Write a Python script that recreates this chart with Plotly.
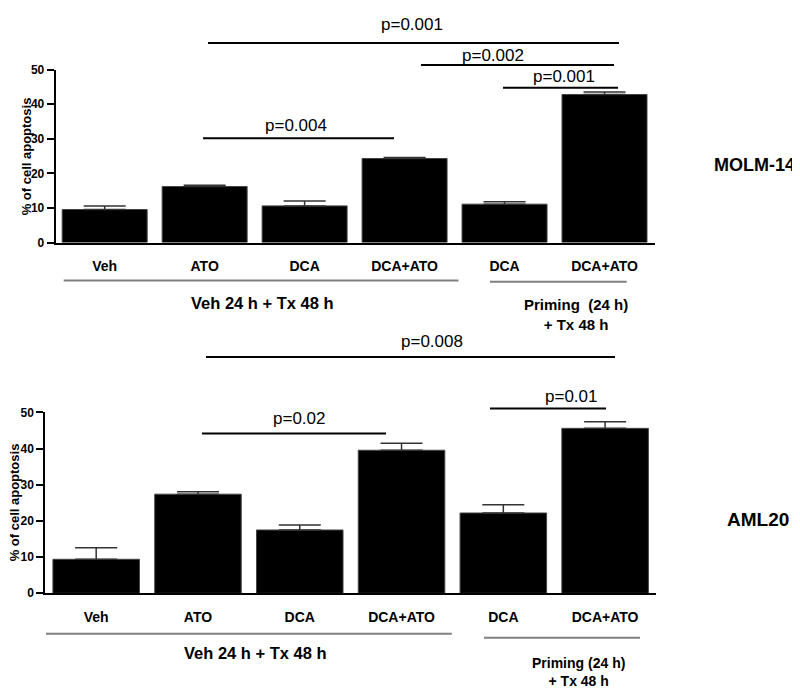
import plotly.graph_objects as go

W, H = 800, 688

categories = ["Veh", "ATO", "DCA", "DCA+ATO", "DCA ", "DCA+ATO "]
cat_labels = ["Veh", "ATO", "DCA", "DCA+ATO", "DCA", "DCA+ATO"]

molm14_mean = [9.55, 16.2, 10.6, 24.3, 11.1, 42.8]
molm14_sem = [1.05, 0.4, 1.4, 0.3, 0.7, 0.7]

aml20_mean = [9.4, 27.4, 17.5, 39.55, 22.2, 45.6]
aml20_sem = [3.2, 0.7, 1.35, 1.95, 2.3, 1.8]

y_ticks = [0, 10, 20, 30, 40, 50]
panel_names = ["MOLM-14", "AML20"]
group_top = ["Veh 24 h + Tx 48 h", "Priming  (24 h)<br>+ Tx 48 h"]
group_bot = ["Veh 24 h + Tx 48 h", "Priming (24 h)<br>+ Tx 48 h"]
pvals_top = ["p=0.001", "p=0.002", "p=0.001", "p=0.004"]
pvals_bot = ["p=0.008", "p=0.02", "p=0.01"]
y_title = "% of cell apoptosis"


def X(px):
    return px / W


def Y(py):
    return 1 - py / H


SANS = "Liberation Sans, Arial, sans-serif"

fig = go.Figure()

for i, (mean, sem) in enumerate([(molm14_mean, molm14_sem), (aml20_mean, aml20_sem)]):
    ax = "" if i == 0 else "2"
    fig.add_trace(go.Bar(
        x=categories, y=mean,
        xaxis="x" + ax, yaxis="y" + ax,
        width=0.85,
        marker=dict(color="black", line=dict(color="#444444", width=1)),
        error_y=dict(type="data", array=sem, arrayminus=[0] * len(sem), symmetric=False,
                     color="#333333", thickness=1.5, width=21),
        showlegend=False,
    ))

xcommon = dict(type="category", categoryorder="array", categoryarray=categories,
               tickvals=categories, ticktext=cat_labels,
               showline=True, linecolor="black", linewidth=2, ticks="",
               showgrid=False, zeroline=False, ticklabelstandoff=10,
               tickfont=dict(family=SANS, size=14, color="black", weight="bold"))
ycommon = dict(range=[0, 50], tickvals=y_ticks, showline=True, linecolor="black", linewidth=2,
               ticks="outside", ticklen=7, tickwidth=1.5, tickcolor="black",
               showgrid=False, zeroline=False,
               tickfont=dict(family=SANS, size=12, color="black", weight="bold"))

fig.update_layout(
    width=W, height=H,
    margin=dict(l=0, r=0, t=0, b=0),
    paper_bgcolor="white", plot_bgcolor="white",
    xaxis=dict(domain=[X(47.7), X(647)], anchor="y", range=[-0.49, 5.505], **xcommon),
    yaxis=dict(domain=[Y(232.3), Y(55.7)], anchor="x", **ycommon),
    xaxis2=dict(domain=[X(37.3), X(648)], anchor="y2", range=[-0.5, 5.5], **xcommon),
    yaxis2=dict(domain=[Y(590.3), Y(405.7)], anchor="x2", **ycommon),
)

shapes = []
annotations = []


def hline(x0, x1, y, color="black", width=2):
    shapes.append(dict(type="line", xref="paper", yref="paper",
                       x0=X(x0), x1=X(x1), y0=Y(y), y1=Y(y),
                       line=dict(color=color, width=width)))


def text(t, x, y, size, bold=False, angle=0):
    annotations.append(dict(text=t, xref="paper", yref="paper", x=X(x), y=Y(y),
                            xanchor="center", yanchor="middle", showarrow=False,
                            textangle=angle, borderpad=0,
                            font=dict(family=SANS, size=size, color="black",
                                      weight="bold" if bold else "normal")))


# significance brackets, top panel
hline(200, 611, 28.7); text(pvals_top[0], 404, 10, 17)
hline(413, 606, 51); text(pvals_top[1], 485, 41, 17)
hline(495, 610, 74.3); text(pvals_top[2], 556, 63, 17)
hline(195, 386, 125.7); text(pvals_top[3], 288, 113, 17)

# significance brackets, bottom panel
hline(198, 607, 349); text(pvals_bot[0], 424, 333, 17)
hline(194, 378, 427.3); text(pvals_bot[1], 291, 411.7, 17)
hline(482, 598, 401.7); text(pvals_bot[2], 563, 389, 17)

# group lines & labels, top
hline(55.7, 450.5, 271, color="#808080")
hline(482, 618.7, 272.3, color="#808080")
text(group_top[0], 254, 294, 16.5, True)
text(group_top[1], 568, 306, 15, True)

# group lines & labels, bottom
hline(38, 443.8, 631.7, color="#808080")
hline(476, 632, 635.7, color="#808080")
text(group_bot[0], 247.5, 651.7, 16.5, True)
text(group_bot[1], 570, 671, 14, True)

# y-axis titles
text(y_title, 18.3, 144, 13, True, -90)
text(y_title, 6.5, 498, 13, True, -90)

# panel names
text(panel_names[0], 746, 152.7, 18, True)
text(panel_names[1], 750, 515, 19, True)

fig.update_layout(shapes=shapes, annotations=annotations)
fig.write_html("out.html")
